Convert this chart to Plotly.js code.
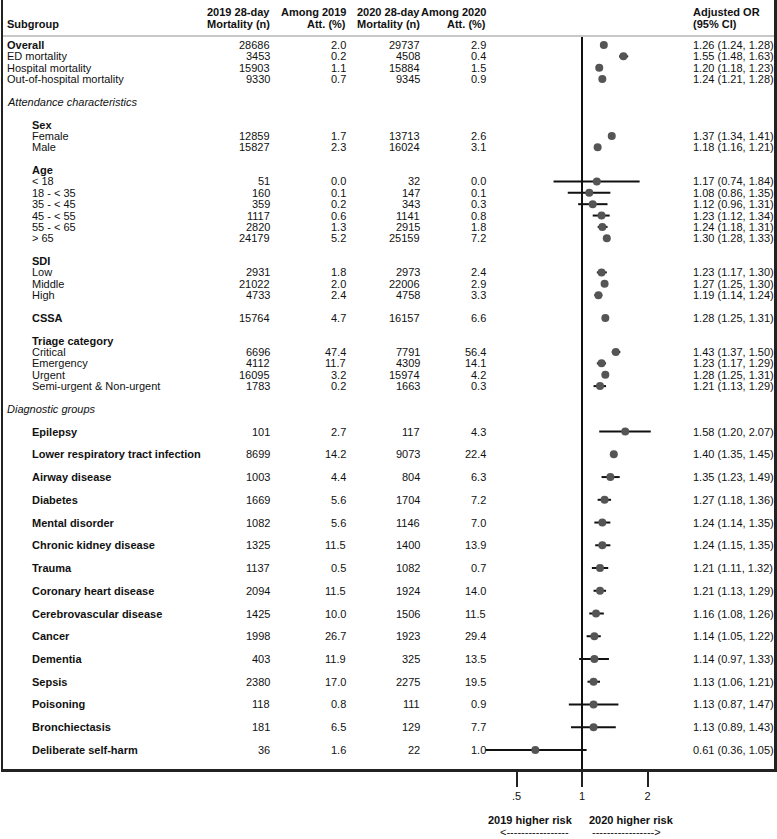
<!DOCTYPE html>
<html>
<head>
<meta charset="utf-8">
<script src="https://cdn.plot.ly/plotly-3.0.1.min.js"></script>
<style>html,body{margin:0;padding:0;background:#fff;}#chart{width:777px;height:839px;}</style>
</head>
<body>
<div id="chart"></div>
<script>
const n = null;
// Row categories (blank strings are spacer rows, as in the original table)
const rowLabels = ["Overall","ED mortality","Hospital mortality","Out-of-hospital mortality","",
  "Attendance characteristics","",
  "Sex","Female","Male","",
  "Age","< 18","18 - < 35","35 - < 45","45 - < 55","55 - < 65","> 65","",
  "SDI","Low","Middle","High","",
  "CSSA","",
  "Triage category","Critical","Emergency","Urgent","Semi-urgent & Non-urgent","",
  "Diagnostic groups","",
  "Epilepsy","","Lower respiratory tract infection","","Airway disease","","Diabetes","",
  "Mental disorder","","Chronic kidney disease","","Trauma","","Coronary heart disease","",
  "Cerebrovascular disease","","Cancer","","Dementia","","Sepsis","","Poisoning","",
  "Bronchiectasis","","Deliberate self-harm"];
const rowKind = ["overall","outcome","outcome","outcome","",
  "section","",
  "header","item","item","",
  "header","item","item","item","item","item","item","",
  "header","item","item","item","",
  "header","",
  "header","item","item","item","item","",
  "section","",
  "header","","header","","header","","header","",
  "header","","header","","header","","header","",
  "header","","header","","header","","header","","header","",
  "header","","header"];
const n2019 = [28686,3453,15903,9330,n, n,n, n,12859,15827,n, n,51,160,359,1117,2820,24179,n, n,2931,21022,4733,n, 15764,n, n,6696,4112,16095,1783,n, n,n,
  101,n,8699,n,1003,n,1669,n,1082,n,1325,n,1137,n,2094,n,1425,n,1998,n,403,n,2380,n,118,n,181,n,36];
const pct2019 = [2.0,0.2,1.1,0.7,n, n,n, n,1.7,2.3,n, n,0.0,0.1,0.2,0.6,1.3,5.2,n, n,1.8,2.0,2.4,n, 4.7,n, n,47.4,11.7,3.2,0.2,n, n,n,
  2.7,n,14.2,n,4.4,n,5.6,n,5.6,n,11.5,n,0.5,n,11.5,n,10.0,n,26.7,n,11.9,n,17.0,n,0.8,n,6.5,n,1.6];
const n2020 = [29737,4508,15884,9345,n, n,n, n,13713,16024,n, n,32,147,343,1141,2915,25159,n, n,2973,22006,4758,n, 16157,n, n,7791,4309,15974,1663,n, n,n,
  117,n,9073,n,804,n,1704,n,1146,n,1400,n,1082,n,1924,n,1506,n,1923,n,325,n,2275,n,111,n,129,n,22];
const pct2020 = [2.9,0.4,1.5,0.9,n, n,n, n,2.6,3.1,n, n,0.0,0.1,0.3,0.8,1.8,7.2,n, n,2.4,2.9,3.3,n, 6.6,n, n,56.4,14.1,4.2,0.3,n, n,n,
  4.3,n,22.4,n,6.3,n,7.2,n,7.0,n,13.9,n,0.7,n,14.0,n,11.5,n,29.4,n,13.5,n,19.5,n,0.9,n,7.7,n,1.0];
const orVal = [1.26,1.55,1.20,1.24,n, n,n, n,1.37,1.18,n, n,1.17,1.08,1.12,1.23,1.24,1.30,n, n,1.23,1.27,1.19,n, 1.28,n, n,1.43,1.23,1.28,1.21,n, n,n,
  1.58,n,1.40,n,1.35,n,1.27,n,1.24,n,1.24,n,1.21,n,1.21,n,1.16,n,1.14,n,1.14,n,1.13,n,1.13,n,1.13,n,0.61];
const orLo = [1.24,1.48,1.18,1.21,n, n,n, n,1.34,1.16,n, n,0.74,0.86,0.96,1.12,1.18,1.28,n, n,1.17,1.25,1.14,n, 1.25,n, n,1.37,1.17,1.25,1.13,n, n,n,
  1.20,n,1.35,n,1.23,n,1.18,n,1.14,n,1.15,n,1.11,n,1.13,n,1.08,n,1.05,n,0.97,n,1.06,n,0.87,n,0.89,n,0.36];
const orHi = [1.28,1.63,1.23,1.28,n, n,n, n,1.41,1.21,n, n,1.84,1.35,1.31,1.34,1.31,1.33,n, n,1.30,1.30,1.24,n, 1.31,n, n,1.50,1.29,1.31,1.29,n, n,n,
  2.07,n,1.45,n,1.49,n,1.36,n,1.35,n,1.35,n,1.32,n,1.29,n,1.26,n,1.22,n,1.33,n,1.21,n,1.47,n,1.43,n,1.05];
const tickVals = [0.5, 1, 2];
const tickText = [".5", "1", "2"];
const headers = {
  sub: "Subgroup",
  c1: ["2019 28-day", "Mortality (n)"],
  c2: ["Among 2019", "Att. (%)"],
  c3: ["2020 28-day", "Mortality (n)"],
  c4: ["Among 2020", "Att. (%)"],
  c5: ["Adjusted OR", "(95% CI)"]
};
const riskLabels = ["2019 higher risk", "2020 higher risk"];

// ---- layout constants ----
const W = 777, H = 839;
const mL = 3, mR = 3, mT = 0, mB = 70;
const plotW = W - mL - mR, plotH = H - mT - mB;
const px = x => (x - mL) / plotW;       // page px -> paper x
const py = y => 1 - (y - mT) / plotH;   // page px -> paper y
const rowH = 11.37, row0 = 45;
const yRange = [(plotH + mT - row0) / rowH, (mT - row0) / rowH];
const pxPerDec = 217.6, oneX = 582;
const xRange = [-(oneX - mL) / pxPerDec, (W - mR - oneX) / pxPerDec];

const FONT = "Liberation Sans, Arial, Helvetica, sans-serif";
const TXT = "#111";
const esc = s => s.replace(/&/g, "&amp;").replace(/</g, "&lt;").replace(/>/g, "&gt;");

const ann = [];
function addText(text, xPx, y, yref, anchor, opts) {
  opts = opts || {};
  let t = esc(text);
  if (opts.bold) t = "<b>" + t + "</b>";
  if (opts.italic) t = "<i>" + t + "</i>";
  ann.push({
    text: t, xref: "paper", x: px(xPx), yref: yref, y: y,
    xanchor: anchor, yanchor: "middle", showarrow: false,
    borderpad: 0, borderwidth: 0,
    font: {family: FONT, size: 11, color: TXT}
  });
}

// header
const hy1 = py(12), hy2 = py(24);
addText(headers.sub, 7, hy2, "paper", "left", {bold: true});
[[headers.c1, 270], [headers.c2, 346], [headers.c3, 420], [headers.c4, 486]].forEach(([h, x]) => {
  addText(h[0], x, hy1, "paper", "right", {bold: true});
  addText(h[1], x, hy2, "paper", "right", {bold: true});
});
addText(headers.c5[0], 693, hy1, "paper", "left", {bold: true});
addText(headers.c5[1], 693, hy2, "paper", "left", {bold: true});

// rows
rowLabels.forEach((lab, i) => {
  const k = rowKind[i];
  if (!lab) return;
  if (k === "overall") addText(lab, 7, i, "y", "left", {bold: true});
  else if (k === "outcome") addText(lab, 7, i, "y", "left");
  else if (k === "section") addText(lab, 7, i, "y", "left", {italic: true});
  else if (k === "header") addText(lab, 32, i, "y", "left", {bold: true});
  else addText(lab, 32, i, "y", "left");
  if (n2019[i] !== null) {
    addText(String(n2019[i]), 270, i, "y", "right");
    addText(pct2019[i].toFixed(1), 346, i, "y", "right");
    addText(String(n2020[i]), 420, i, "y", "right");
    addText(pct2020[i].toFixed(1), 486, i, "y", "right");
    addText(orVal[i].toFixed(2) + " (" + orLo[i].toFixed(2) + ", " + orHi[i].toFixed(2) + ")", 693, i, "y", "left");
  }
});

// risk direction labels
addText(riskLabels[0], 573, py(820), "paper", "right", {bold: true});
addText(riskLabels[1], 589, py(820), "paper", "left", {bold: true});
addText("<" + "-".repeat(17), 569, py(832), "paper", "right");
addText("-".repeat(17) + ">", 592, py(832), "paper", "left");

const xs = [], ys = [], ep = [], em = [];
orVal.forEach((v, i) => {
  if (v === null) return;
  xs.push(v); ys.push(i);
  ep.push(orHi[i] - v); em.push(v - orLo[i]);
});

const trace = {
  type: "scatter", mode: "markers", x: xs, y: ys,
  marker: {size: 8, color: "#555555", line: {width: 0}},
  error_x: {type: "data", symmetric: false, array: ep, arrayminus: em,
            width: 0, thickness: 2, color: "#111111"},
  hoverinfo: "skip", showlegend: false, cliponaxis: true
};

const layout = {
  width: W, height: H,
  margin: {l: mL, r: mR, t: mT, b: mB, pad: 0},
  paper_bgcolor: "#ffffff", plot_bgcolor: "#ffffff",
  showlegend: false,
  font: {family: FONT, size: 11, color: TXT},
  xaxis: {type: "log", range: xRange, autorange: false,
          tickvals: tickVals, ticktext: tickText,
          ticks: "outside", ticklen: 15, tickwidth: 2, tickcolor: "#222",
          showline: true, linecolor: "#222", linewidth: 2.5, mirror: false,
          showgrid: false, zeroline: false,
          tickfont: {family: FONT, size: 11, color: TXT}, fixedrange: true},
  yaxis: {range: yRange, autorange: false, showticklabels: false, ticks: "",
          showline: true, linecolor: "#222", linewidth: 2.5, mirror: true,
          showgrid: false, zeroline: false, fixedrange: true},
  shapes: [
    {type: "line", xref: "paper", yref: "paper", x0: 0, x1: 1, y0: py(36), y1: py(36),
     line: {color: "#c8c8c8", width: 2}},
    {type: "line", xref: "x", yref: "paper", x0: 1, x1: 1, y0: 0, y1: py(37),
     line: {color: "#111", width: 2}, layer: "below"}
  ],
  annotations: ann
};

Plotly.newPlot("chart", [trace], layout, {displayModeBar: false, staticPlot: true});
</script>
</body>
</html>
